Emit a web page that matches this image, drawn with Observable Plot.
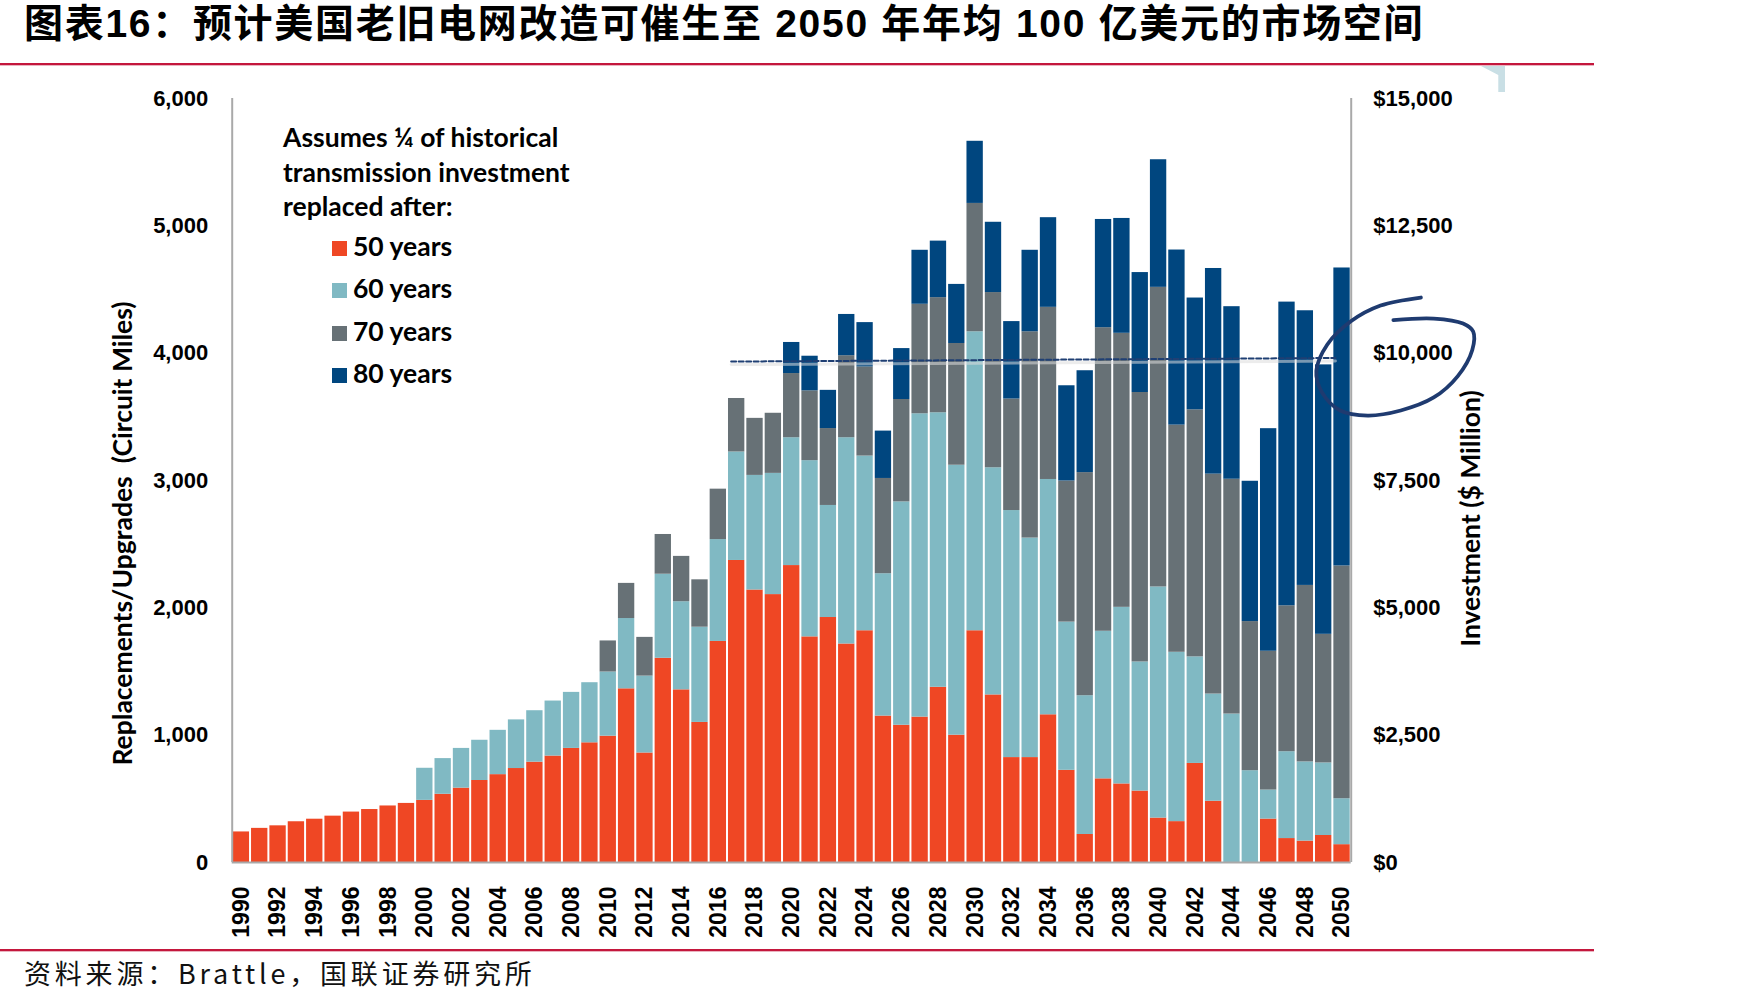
<!DOCTYPE html>
<html>
<head>
<meta charset="utf-8">
<script src="https://cdn.jsdelivr.net/npm/d3@7"></script>
<script src="https://cdn.jsdelivr.net/npm/@observablehq/plot@0.6"></script>
<style>
  html, body { margin: 0; padding: 0; background: #fff; }
  #page { position: relative; width: 1748px; height: 1004px; overflow: hidden; background: #fff; }
  #title { position: absolute; left: 24px; top: 1.5px; line-height: 44px; font-family: "Liberation Sans", "Noto Sans CJK SC"; font-weight: 700; font-size: 39px; letter-spacing: 1.7px; white-space: nowrap; color: #000; }
  .redrule { position: absolute; left: 0; width: 1594px; height: 2px; background: #c4173d; }
  .pinkrule { position: absolute; left: 0; width: 1594px; height: 1px; background: #eab4c0; }
  #artifact { position: absolute; left: 1481px; top: 66px; width: 24px; height: 26px; background: #c9dfe5; clip-path: polygon(0 0, 100% 0, 100% 100%, 72% 100%, 72% 35%, 0 0); }
  #chart { position: absolute; left: 0; top: 70px; }
  #legend { position: absolute; left: 283px; top: 120px; font-family: Lato; font-weight: 700; font-size: 26.5px; color: #000; z-index: 2; }
  #legend .head { line-height: 34.5px; white-space: nowrap; }
  #legend .item { position: absolute; left: 49px; height: 30px; line-height: 30px; white-space: nowrap; }
  #legend .sw { display: inline-block; width: 15px; height: 15px; margin-right: 6px; vertical-align: 0px; }
  #source { position: absolute; left: 24px; top: 955px; line-height: 36px; font-family: "Noto Sans CJK SC"; font-weight: 400; font-size: 27px; letter-spacing: 3.8px; color: #111; white-space: nowrap; }
</style>
</head>
<body>
<div id="page">
  <div id="title">图表16：预计美国老旧电网改造可催生至 2050 年年均 100 亿美元的市场空间</div>
  <div class="redrule" style="top:63px"></div>
  <div class="pinkrule" style="top:65px"></div>
  <div id="artifact"></div>
  <div id="chart"></div>
  <div id="legend"></div>
  <div class="redrule" style="top:949px"></div>
  <div class="pinkrule" style="top:951px"></div>
  <div id="source">资料来源：Brattle，国联证券研究所</div>
</div>
<script>
// ---- categories ----
const years = [1990,1991,1992,1993,1994,1995,1996,1997,1998,1999,
  2000,2001,2002,2003,2004,2005,2006,2007,2008,2009,
  2010,2011,2012,2013,2014,2015,2016,2017,2018,2019,
  2020,2021,2022,2023,2024,2025,2026,2027,2028,2029,
  2030,2031,2032,2033,2034,2035,2036,2037,2038,2039,
  2040,2041,2042,2043,2044,2045,2046,2047,2048,2049,
  2050];

// ---- series values (circuit miles per segment) ----
const replaced50 = [240,268,288,320,340,364,396,416,444,464,
  488,536,584,644,690,738,788,836,896,940,
  992,1364,860,1604,1356,1100,1736,2372,2140,2104,
  2332,1772,1924,1716,1820,1150,1078,1142,1376,1000,
  1820,1316,824,824,1160,724,220,657,617,561,
  349,321,778,481,0,0,341,188,168,212,
  140];
const replaced60 = [0,0,0,0,0,0,0,0,0,0,
  252,280,312,316,348,382,404,432,440,472,
  504,552,604,660,692,748,800,852,900,952,
  1004,1384,880,1620,1372,1118,1754,2382,2156,2120,
  2348,1784,1940,1724,1848,1164,1090,1159,1387,1014,
  1815,1330,837,842,1166,721,228,682,622,570,
  361];
const replaced70 = [0,0,0,0,0,0,0,0,0,0,
  0,0,0,0,0,0,0,0,0,0,
  244,276,304,312,356,372,396,420,448,472,
  504,548,604,644,700,748,804,860,904,956,
  1008,1376,876,1620,1352,1108,1752,2384,2152,2116,
  2353,1784,1940,1727,1844,1171,1090,1146,1386,1010,
  1828];
const replaced80 = [0,0,0,0,0,0,0,0,0,0,
  0,0,0,0,0,0,0,0,0,0,
  0,0,0,0,0,0,0,0,0,0,
  244,272,300,324,348,372,400,424,444,464,
  488,552,608,640,704,748,800,850,902,942,
  1002,1375,878,1615,1355,1102,1748,2385,2157,2116,
  2340];

const seriesNames = ["50 years", "60 years", "70 years", "80 years"];
const seriesColors = ["#ef4724", "#80b9c3", "#677176", "#00467f"];

// ---- tick labels ----
const leftTicks = [0, 1000, 2000, 3000, 4000, 5000, 6000];
const rightTicks = [0, 2500, 5000, 7500, 10000, 12500, 15000];
const dollarsPerMile = 2.5; // right axis: $15,000M at 6,000 miles
const yearTicks = [1990,1992,1994,1996,1998,2000,2002,2004,2006,2008,2010,2012,2014,2016,2018,2020,2022,2024,2026,2028,2030,2032,2034,2036,2038,2040,2042,2044,2046,2048,2050];

// ---- annotations ----
const averageLine = [{year: 2016.7, value: 3934}, {year: 2049.64, value: 3962}];
const circleAnnotation = [
  {year: 2054.3, value: 4437}, {year: 2052.1, value: 4374}, {year: 2050.5, value: 4252},
  {year: 2049.2, value: 4068}, {year: 2048.6, value: 3860}, {year: 2048.9, value: 3694},
  {year: 2049.9, value: 3550}, {year: 2051.4, value: 3510}, {year: 2053.2, value: 3550},
  {year: 2055.0, value: 3652}, {year: 2056.3, value: 3818}, {year: 2057.1, value: 4025},
  {year: 2057.15, value: 4170}, {year: 2056.6, value: 4233}, {year: 2055.0, value: 4272},
  {year: 2052.8, value: 4260}
];

const leftTitle = "Replacements/Upgrades  (Circuit Miles)";
const rightTitle = "Investment ($ Million)";

// ---- build stacked table ----
const seriesValues = [replaced50, replaced60, replaced70, replaced80];
const rows = [];
years.forEach((yr, i) => {
  let base = 0;
  seriesNames.forEach((name, k) => {
    const v = seriesValues[k][i];
    rows.push({year: yr, series: name, y1: base, y2: base + v});
    base += v;
  });
});

const xMin = years[0] - 0.5, xMax = years[years.length - 1] + 0.5;
const fmt = d3.format(",");
const axisGray = "#a9a9a9";
const tickFont = {fontFamily: "Liberation Sans", fontWeight: "bold", fontSize: 22, fill: "#000"};
const titleFont = {fontFamily: "Lato", fontWeight: "bold", fontSize: 26.5, fill: "#000", textAnchor: "middle"};

const chart = Plot.plot({
  width: 1748,
  height: 880,
  marginLeft: 231.7,
  marginRight: 397.3,
  marginTop: 28,
  marginBottom: 88,
  style: {background: "transparent", overflow: "visible", fontFamily: "Liberation Sans"},
  x: {type: "linear", domain: [xMin, xMax], axis: null},
  y: {domain: [0, 6000], axis: null},
  color: {domain: seriesNames, range: seriesColors},
  marks: [
    Plot.rect(rows, {x1: d => d.year - 0.5, x2: d => d.year + 0.5, y1: "y1", y2: "y2", fill: "series", insetLeft: 1, insetRight: 1}),
    Plot.ruleY([0], {stroke: axisGray, strokeWidth: 2}),
    Plot.ruleX([xMin, xMax], {y1: 0, y2: 6000, stroke: axisGray, strokeWidth: 2}),
    // average line with soft shadow
    Plot.line(averageLine, {x: "year", y: "value", stroke: "#dcdcdc", strokeWidth: 3, dy: 3, strokeOpacity: 0.55}),
    Plot.line(averageLine, {x: "year", y: "value", stroke: "#1f3f73", strokeWidth: 2, strokeDasharray: "5,2.5"}),
    // left tick labels
    Plot.text(leftTicks, {x: xMin, y: d => d, text: d => fmt(d), textAnchor: "end", dx: -24, ...tickFont}),
    // right tick labels
    Plot.text(rightTicks, {x: xMax, y: d => d / dollarsPerMile, text: d => "$" + fmt(d), textAnchor: "start", dx: 22, ...tickFont}),
    // year labels
    Plot.text(yearTicks, {x: d => d, y: 0, text: d => String(d), rotate: -90, textAnchor: "end", dy: 24, ...tickFont, fontSize: 23}),
    // axis titles
    Plot.text([leftTitle], {frameAnchor: "left", rotate: -90, dx: -109, dy: 53, ...titleFont}),
    Plot.text([rightTitle], {frameAnchor: "right", rotate: -90, dx: 120, dy: 38, ...titleFont}),
    // hand-drawn circle
    Plot.line(circleAnnotation, {x: "year", y: "value", curve: "catmull-rom", stroke: "#1f3b70", strokeWidth: 3.8, strokeLinecap: "round", clip: false})
  ]
});
document.getElementById("chart").appendChild(chart);

// ---- legend ----
const legend = document.getElementById("legend");
legend.innerHTML = '<div class="head">Assumes ¼ of historical</div><div class="head">transmission investment</div><div class="head">replaced after:</div>';
seriesNames.forEach((name, k) => {
  const item = document.createElement("div");
  item.className = "item";
  item.style.top = (111 + k * 42.3) + "px";
  item.innerHTML = '<span class="sw" style="background:' + seriesColors[k] + '"></span>' + name;
  legend.appendChild(item);
});
</script>
</body>
</html>
